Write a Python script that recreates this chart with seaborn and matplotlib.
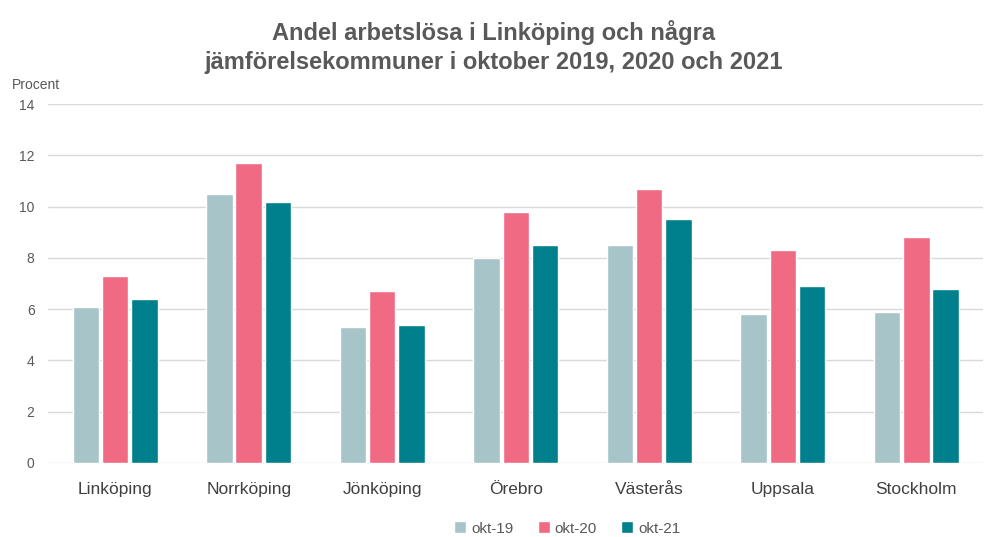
import pandas as pd
import matplotlib.pyplot as plt
import seaborn as sns

# --- Data ---
kommuner = ["Linköping", "Norrköping", "Jönköping", "Örebro", "Västerås", "Uppsala", "Stockholm"]
okt_19 = [6.1, 10.5, 5.3, 8.0, 8.5, 5.8, 5.9]
okt_20 = [7.3, 11.7, 6.7, 9.8, 10.7, 8.3, 8.8]
okt_21 = [6.4, 10.2, 5.4, 8.5, 9.5, 6.9, 6.8]
serier = ["okt-19", "okt-20", "okt-21"]
farger = ["#a7c4c9", "#f06a83", "#00808c"]

df = pd.DataFrame({
    "kommun": kommuner * 3,
    "serie": [s for s in serier for _ in kommuner],
    "procent": okt_19 + okt_20 + okt_21,
})

sns.set_theme(style="white")
plt.rcParams["font.family"] = ["Liberation Sans", "DejaVu Sans"]

fig = plt.figure(figsize=(9.88, 5.37), dpi=100)
ax = fig.add_axes([0.049, 0.138, 0.946, 0.668])

sns.barplot(data=df, x="kommun", y="procent", hue="serie", palette=farger,
            width=0.66, gap=0.1, ax=ax, saturation=1)

ax.set_ylim(0, 14)
ax.set_yticks(range(0, 15, 2))
ax.set_xlim(-0.5, 6.5)
ax.yaxis.grid(True, color="#d9d9d9", linewidth=1)
ax.set_axisbelow(True)
for s in ax.spines.values():
    s.set_visible(False)
ax.tick_params(axis="y", labelsize=10, colors="#595959", length=0, pad=10)
ax.tick_params(axis="x", labelsize=12.5, colors="#404040", length=0, pad=14)
ax.set_xlabel("")
ax.set_ylabel("")

fig.text(0.012, 0.835, "Procent", fontsize=10, color="#595959")
fig.suptitle("Andel arbetslösa i Linköping och några\njämförelsekommuner i oktober 2019, 2020 och 2021",
             fontsize=17, fontweight="bold", color="#595959", y=0.962, linespacing=1.3)

ax.legend(loc="upper center", bbox_to_anchor=(0.555, -0.125), ncol=3, frameon=False,
          fontsize=11, handlelength=0.8, handleheight=0.8, handletextpad=0.3,
          columnspacing=1.6, labelcolor="#595959")

fig.savefig("out.png", dpi=100)
